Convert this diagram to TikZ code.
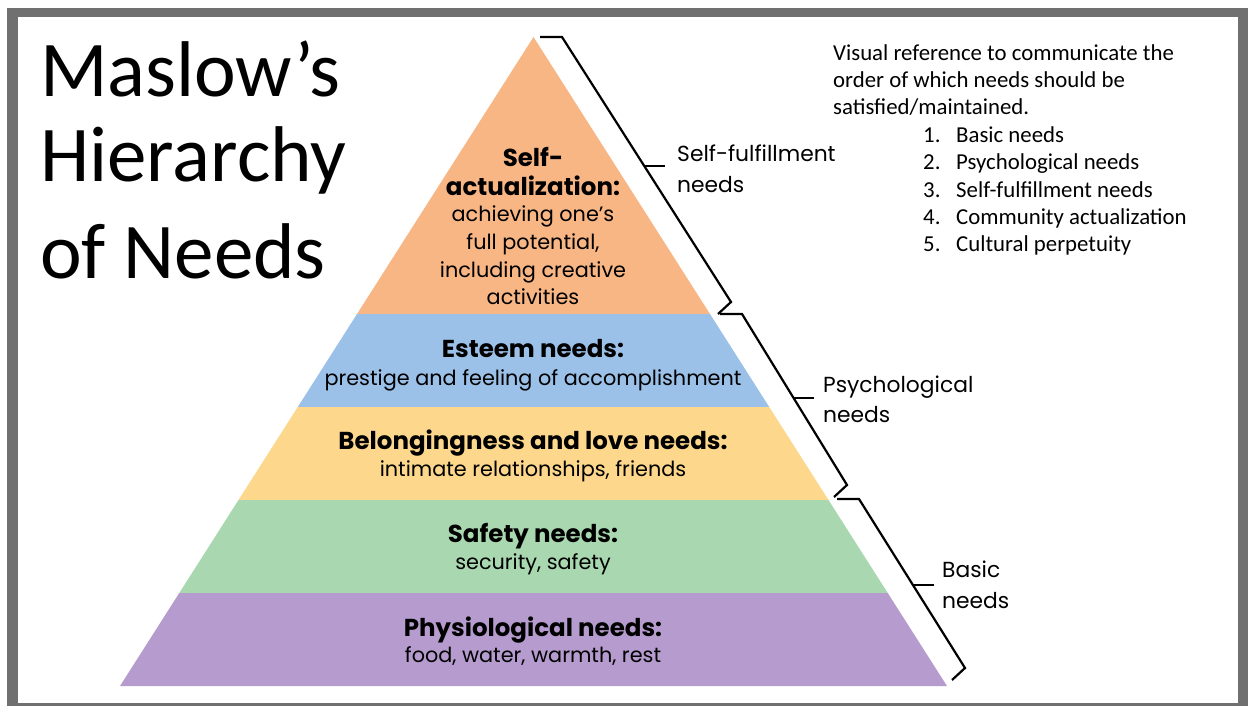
\documentclass[tikz,border=0pt]{standalone}
\usepackage{fontspec}
\setmainfont{Carlito}
\newfontfamily\pyrfont{Poppins}
\usepackage{tikz}

\definecolor{selfcol}{RGB}{248,182,133}
\definecolor{esteemcol}{RGB}{156,193,233}
\definecolor{lovecol}{RGB}{253,215,140}
\definecolor{safecol}{RGB}{168,215,176}
\definecolor{physcol}{RGB}{181,155,206}
\definecolor{framecol}{RGB}{112,112,112}

\begin{document}
\begin{tikzpicture}[x=1pt,y=-1pt]
  \useasboundingbox (0,0) rectangle (1248,706);

  % Frame
  \fill[framecol] (7,8) rectangle (1248,706);
  \fill[white] (18,17) rectangle (1238,703);

  % Pyramid layers
  \foreach \ya/\yb/\col in {37/314/selfcol, 314/407/esteemcol, 407/500/lovecol, 500/593/safecol, 593/686/physcol} {
    \fill[\col] ({533.5-(\ya-37)*0.6371},\ya) -- ({533.5+(\ya-37)*0.6371},\ya)
      -- ({533.5+(\yb-37)*0.6371},\yb) -- ({533.5-(\yb-37)*0.6371},\yb) -- cycle;
  }

  % Brackets
  \foreach \xa/\ya/\xb/\yb/\tx/\ty in {540/37/731/302/645/166, 720/314/847/485/794/398, 837/499/965/668/914/585} {
    \draw[line width=2.2pt] (\xa,\ya) -- (\xa+22,\ya) -- (\xb,\yb) -- (\xb-13,\yb+12);
    \draw[line width=2.2pt] (\tx,\ty) -- (\tx+20,\ty);
  }

  % Title
  \node[anchor=base west, inner sep=0pt, font=\fontsize{79}{90}\selectfont] (title1) at (40,97) {Maslow's};
  \node[anchor=base west, inner sep=0pt, font=\fontsize{79}{90}\selectfont] (title2) at (40,182) {Hierarchy};
  \node[anchor=base west, inner sep=0pt, font=\fontsize{79}{90}\selectfont] (title3) at (40,278) {of Needs};

  % Note
  \foreach \txt [count=\i] in {Visual reference to communicate the, order of which needs should be, satisfied/maintained.} {
    \node[anchor=base west, inner sep=0pt, font=\fontsize{22.8}{27}\selectfont] (note\i) at (833,{61+27*(\i-1)}) {\txt};
  }
  \foreach \txt [count=\i] in {Basic needs, Psychological needs, Self-fulfillment needs, Community actualization, Cultural perpetuity} {
    \node[anchor=base west, inner sep=0pt, font=\fontsize{22.8}{27}\selectfont] (num\i) at (923,{143+27*(\i-1)}) {\i.};
    \node[anchor=base west, inner sep=0pt, font=\fontsize{22.8}{27}\selectfont] (item\i) at (956,{143+27*(\i-1)}) {\txt};
  }

  % Bracket labels
  \node[anchor=base west, inner sep=0pt, font=\pyrfont\fontsize{21.8}{26}\selectfont] (fulfil1) at (677,161) {Self-fulfillment};
  \node[anchor=base west, inner sep=0pt, font=\pyrfont\fontsize{21.8}{26}\selectfont] (fulfil2) at (677,193) {needs};
  \node[anchor=base west, inner sep=0pt, font=\pyrfont\fontsize{21.8}{26}\selectfont] (psych1) at (823,392) {Psychological};
  \node[anchor=base west, inner sep=0pt, font=\pyrfont\fontsize{21.8}{26}\selectfont] (psych2) at (823,422) {needs};
  \node[anchor=base west, inner sep=0pt, font=\pyrfont\fontsize{21.8}{26}\selectfont] (basic1) at (942,577) {Basic};
  \node[anchor=base west, inner sep=0pt, font=\pyrfont\fontsize{21.8}{26}\selectfont] (basic2) at (942,608) {needs};

  % Layer texts
  \foreach \txt/\y/\w [count=\i] in {Self-/167/b, actualization:/196/b, achieving one’s/221/r, {full potential,}/249/r, including creative/277/r, activities/304/r,
      Esteem needs:/357/b, prestige and feeling of accomplishment/385/r,
      Belongingness and love needs:/449/b, {intimate relationships, friends}/476/r,
      Safety needs:/542/b, {security, safety}/569/r,
      Physiological needs:/636/b, {food, water, warmth, rest}/662/r} {
    \if\w b
      \node[anchor=base, inner sep=0pt, font=\pyrfont\bfseries\fontsize{24.5}{28}\selectfont] (layer\i) at (533,\y) {\txt};
    \else
      \node[anchor=base, inner sep=0pt, font=\pyrfont\fontsize{20.8}{26}\selectfont] (layer\i) at (533,\y) {\txt};
    \fi
  }

\end{tikzpicture}
\end{document}
